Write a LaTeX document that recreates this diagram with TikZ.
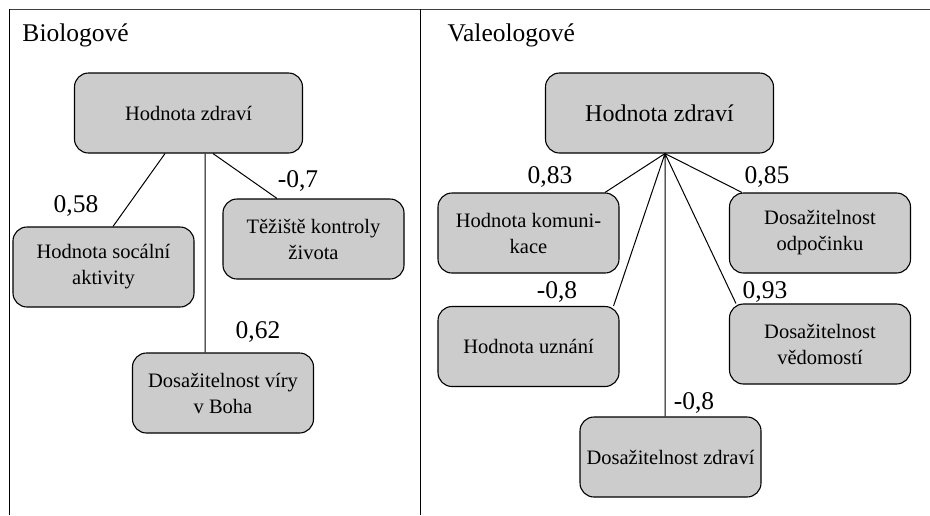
\documentclass[tikz,border=0pt]{standalone}
\usepackage{fontspec}
\setmainfont{Liberation Serif}
\usepackage{tikz}
\tikzset{every node/.style={align=center}, font=\fontsize{20.5}{26}\selectfont,
  value/.style={draw, line width=1.1pt, rounded corners=14pt, fill=black!20,
    minimum width=181pt, minimum height=80pt, inner sep=0pt},
  valuetop/.style={value, minimum width=228pt},
  coef/.style={anchor=base, inner sep=0pt, font=\fontsize{25.5}{30}\selectfont},
  panel/.style={anchor=base west, inner sep=0pt, font=\fontsize{25.5}{30}\selectfont}}

\begin{document}
\begin{tikzpicture}[x=1pt, y=-1pt, line width=1pt]
            \useasboundingbox (0,0) rectangle (930,515);
            \draw[black!75] (9,9) -- (930,9);
            \draw (9,9) -- (9,515) (420,9) -- (420,515);
            \node [panel] (bio) at (22,41) {Biologové};
            \node [panel] (val) at (447,41) {Valeologové};
            % Biologove
            \node [valuetop] (b0) at (188.5,113) {Hodnota zdraví};
            \node [value] (b1) at (103.5,267) {Hodnota socální\\aktivity};
            \node [value] (b2) at (313.5,239) {Těžiště kontroly\\života};
            \node [value] (b3) at (223,393) {Dosažitelnost víry\\v Boha};
            \draw ([xshift=-23.5pt]b0.south) -- ([xshift=9.5pt]b1.north)
                ([xshift=24.5pt]b0.south) -- ([xshift=-36.5pt]b2.north)
                ([xshift=16.5pt]b0.south) -- ([xshift=-18pt]b3.north);
            \node [coef] (k1) at (76,212) {0,58};
            \node [coef] (k2) at (298,187) {-0,7};
            \node [coef] (k3) at (258,338) {0,62};
            % Valeologove
            \node [valuetop, font=\fontsize{24}{28}\selectfont] (v0) at (659.5,113) {Hodnota zdraví};
            \node [value] (v1) at (528.5,233) {Hodnota komuni-\\kace};
            \node [value] (v2) at (528.5,346.5) {Hodnota uznání};
            \node [value] (v3) at (670.5,457) {Dosažitelnost zdraví};
            \node [value] (v4) at (820,344) {Dosažitelnost\\vědomostí};
            \node [value] (v5) at (820,233) {Dosažitelnost\\odpočinku};
            \draw ([xshift=5.5pt]v0.south) -- ([xshift=76.5pt]v1.north)
                ([xshift=5.5pt]v0.south) -- ([xshift=-6pt]v2.north east)
                ([xshift=5.5pt]v0.south) -- ([xshift=-5.5pt]v3.north)
                ([xshift=5.5pt]v0.south) -- ([xshift=7pt]v4.north west)
                ([xshift=5.5pt]v0.south) -- ([xshift=13pt]v5.north west);
            \node [coef] (w1) at (550,183) {0,83};
            \node [coef] (w2) at (557,298) {-0,8};
            \node [coef] (w3) at (694,409) {-0,8};
            \node [coef] (w4) at (765,298) {0,93};
            \node [coef] (w5) at (767,183) {0,85};
        \end{tikzpicture}
\end{document}
